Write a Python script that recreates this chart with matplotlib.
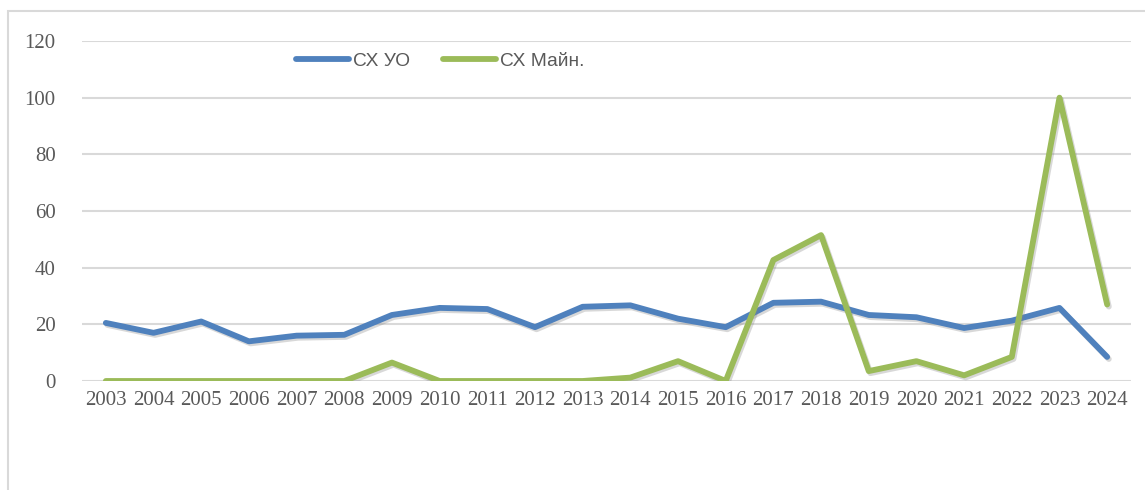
import matplotlib
matplotlib.use("Agg")
import matplotlib.pyplot as plt
import matplotlib.patheffects as pe
from matplotlib.patches import Rectangle

years = [str(y) for y in range(2003, 2025)]
cx_uo = [20.5, 17, 21, 14, 16, 16.3, 23.3, 25.8, 25.4, 19, 26.2, 26.7,
         22, 19, 27.6, 28, 23.3, 22.5, 18.7, 21.3, 25.8, 8.5]
cx_main = [0, 0, 0, 0, 0, 0, 6.5, 0, 0, 0, 0, 1.2,
           7, 0, 42.7, 51.5, 3.5, 7, 2, 8.5, 100, 27]
series_names = ["СХ УО", "СХ Майн."]
yticks = [0, 20, 40, 60, 80, 100, 120]

W, H = 1145, 490
fig = plt.figure(figsize=(W / 100, H / 100), dpi=100)
fig.patch.set_facecolor("white")

# outer frame (right and bottom edges fall outside the image)
fig.patches.append(Rectangle((8 / W, -0.1), 1.2, 1 - 11 / H + 0.1,
                             transform=fig.transFigure, fill=False,
                             edgecolor="#d9d9d9", linewidth=1.5))

ax = fig.add_axes([82 / W, 1 - 381 / H, (1131 - 82) / W, (381 - 41) / H])
x = list(range(len(years)))
shadow = [pe.SimpleLineShadow(offset=(1.2, -1.5), shadow_color="#808080", alpha=0.3),
          pe.Normal()]
l1, = ax.plot(x, cx_uo, color="#4f81bd", lw=4.2, solid_capstyle="round",
              solid_joinstyle="round", path_effects=shadow, label=series_names[0], zorder=3)
l2, = ax.plot(x, cx_main, color="#9bbb59", lw=4.2, solid_capstyle="round",
              solid_joinstyle="round", path_effects=shadow, label=series_names[1], zorder=3)

ax.set_xlim(-0.5, len(years) - 0.5)
ax.set_ylim(0, 120)
ax.set_yticks(yticks)
ax.set_xticks(x)
ax.set_xticklabels(years)
for s in ax.spines.values():
    s.set_visible(False)
ax.grid(axis="y", color="#d9d9d9", lw=1.5)
ax.set_axisbelow(True)
ax.tick_params(axis="both", length=0, colors="#595959")
ax.tick_params(axis="y", pad=19)
ax.tick_params(axis="x", pad=7)
for lab in ax.get_xticklabels() + ax.get_yticklabels():
    lab.set_fontfamily("Liberation Serif")
    lab.set_fontsize(15)
    lab.set_color("#595959")

leg = fig.legend(handles=[l1, l2], loc="center left",
                 bbox_to_anchor=(296 / W, 1 - 61 / H), ncol=2, frameon=False,
                 borderpad=0, borderaxespad=0, handlelength=2.75, handletextpad=0.2,
                 columnspacing=1.75,
                 prop={"family": "Liberation Sans", "size": 13.8})
for t in leg.get_texts():
    t.set_color("#595959")
for h in leg.legend_handles:
    h.set_path_effects([])

fig.savefig("out.png", dpi=100)
